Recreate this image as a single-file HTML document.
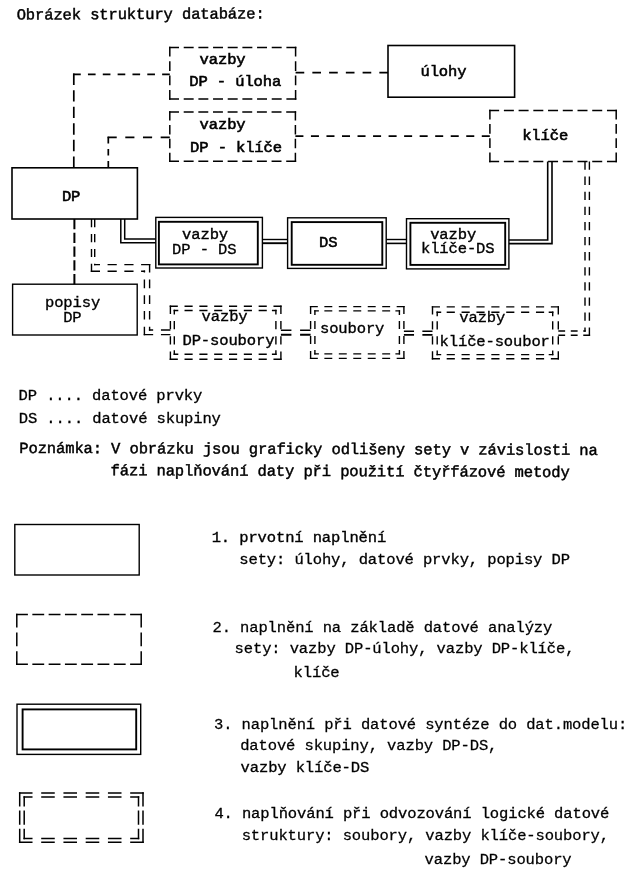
<!DOCTYPE html>
<html><head><meta charset="utf-8"><title>Obrázek struktury databáze</title>
<style>
html,body{margin:0;padding:0;background:#fff;}
body{width:641px;height:882px;overflow:hidden;}
svg{display:block;filter:grayscale(1);}
text{font-family:"Liberation Mono",monospace;font-size:15.5px;letter-spacing:-0.12px;font-weight:normal;fill:#000;white-space:pre;}
</style></head>
<body>
<svg width="641" height="882" viewBox="0 0 641 882">
<g>
<path d="M169.05,47.60H179.00M183.72,47.60H193.67M198.39,47.60H208.34M213.05,47.60H223.01M227.72,47.60H237.68M242.39,47.60H252.35M257.06,47.60H267.01M271.73,47.60H281.68M286.40,47.60H296.35" stroke="#000" stroke-width="1.5" fill="none"/><path d="M169.05,98.90H179.00M183.72,98.90H193.67M198.39,98.90H208.34M213.05,98.90H223.01M227.72,98.90H237.68M242.39,98.90H252.35M257.06,98.90H267.01M271.73,98.90H281.68M286.40,98.90H296.35" stroke="#000" stroke-width="1.5" fill="none"/><path d="M169.80,46.85V56.59M169.80,61.20V70.94M169.80,75.56V85.30M169.80,89.91V99.65" stroke="#000" stroke-width="1.5" fill="none"/><path d="M295.60,46.85V56.59M295.60,61.20V70.94M295.60,75.56V85.30M295.60,89.91V99.65" stroke="#000" stroke-width="1.5" fill="none"/>
<path d="M169.05,112.00H178.99M183.70,112.00H193.63M198.34,112.00H208.28M212.99,112.00H222.92M227.63,112.00H237.57M242.28,112.00H252.21M256.92,112.00H266.86M271.57,112.00H281.50M286.21,112.00H296.15" stroke="#000" stroke-width="1.5" fill="none"/><path d="M169.05,161.30H178.99M183.70,161.30H193.63M198.34,161.30H208.28M212.99,161.30H222.92M227.63,161.30H237.57M242.28,161.30H252.21M256.92,161.30H266.86M271.57,161.30H281.50M286.21,161.30H296.15" stroke="#000" stroke-width="1.5" fill="none"/><path d="M169.80,111.25V120.62M169.80,125.06V134.43M169.80,138.87V148.24M169.80,152.68V162.05" stroke="#000" stroke-width="1.5" fill="none"/><path d="M295.40,111.25V120.62M295.40,125.06V134.43M295.40,138.87V148.24M295.40,152.68V162.05" stroke="#000" stroke-width="1.5" fill="none"/>
<path d="M489.15,110.50H499.14M503.88,110.50H513.87M518.60,110.50H528.59M533.33,110.50H543.32M548.05,110.50H558.05M562.78,110.50H572.77M577.51,110.50H587.50M592.23,110.50H602.22M606.96,110.50H616.95" stroke="#000" stroke-width="1.5" fill="none"/><path d="M489.15,161.50H499.14M503.88,161.50H513.87M518.60,161.50H528.59M533.33,161.50H543.32M548.05,161.50H558.05M562.78,161.50H572.77M577.51,161.50H587.50M592.23,161.50H602.22M606.96,161.50H616.95" stroke="#000" stroke-width="1.5" fill="none"/><path d="M489.90,109.75V119.43M489.90,124.02V133.71M489.90,138.29V147.98M489.90,152.57V162.25" stroke="#000" stroke-width="1.5" fill="none"/><path d="M616.20,109.75V119.43M616.20,124.02V133.71M616.20,138.29V147.98M616.20,152.57V162.25" stroke="#000" stroke-width="1.5" fill="none"/>
<rect x="388.0" y="45.5" width="126.60" height="51.70" fill="none" stroke="#000" stroke-width="1.6"/>
<rect x="12.0" y="167.8" width="125.40" height="51.20" fill="none" stroke="#000" stroke-width="1.6"/>
<rect x="12.6" y="284.2" width="124.60" height="50.80" fill="none" stroke="#000" stroke-width="1.4"/>
<rect x="155.8" y="217.4" width="106.60" height="50.60" fill="none" stroke="#000" stroke-width="1.4"/><rect x="158.9" y="221.8" width="98.90" height="42.60" fill="none" stroke="#000" stroke-width="1.9"/>
<rect x="287.6" y="217.8" width="98.60" height="50.60" fill="none" stroke="#000" stroke-width="1.4"/><rect x="291.7" y="222.1" width="90.60" height="42.70" fill="none" stroke="#000" stroke-width="1.9"/>
<rect x="406.5" y="218.7" width="102.40" height="50.20" fill="none" stroke="#000" stroke-width="1.4"/><rect x="410.4" y="222.8" width="94.80" height="42.10" fill="none" stroke="#000" stroke-width="1.9"/>
<path d="M169.70,306.30H177.83M184.52,306.30H192.65M199.35,306.30H207.48M214.17,306.30H222.30M229.00,306.30H237.13M243.82,306.30H251.95M258.65,306.30H266.78M273.47,306.30H281.60" stroke="#000" stroke-width="1.4" fill="none"/><path d="M169.70,359.20H177.83M184.52,359.20H192.65M199.35,359.20H207.48M214.17,359.20H222.30M229.00,359.20H237.13M243.82,359.20H251.95M258.65,359.20H266.78M273.47,359.20H281.60" stroke="#000" stroke-width="1.4" fill="none"/><path d="M170.40,305.60V313.99M170.40,320.90V329.29M170.40,336.21V344.60M170.40,351.51V359.90" stroke="#000" stroke-width="1.4" fill="none"/><path d="M280.90,305.60V313.99M280.90,320.90V329.29M280.90,336.21V344.60M280.90,351.51V359.90" stroke="#000" stroke-width="1.4" fill="none"/><path d="M173.60,310.50H177.83M184.52,310.50H192.65M199.35,310.50H207.48M214.17,310.50H222.30M229.00,310.50H237.13M243.82,310.50H251.95M258.65,310.50H266.78M273.47,310.50H276.60M173.60,310.50H178.30M271.90,310.50H276.60" stroke="#000" stroke-width="1.4" fill="none"/><path d="M173.60,354.20H177.83M184.52,354.20H192.65M199.35,354.20H207.48M214.17,354.20H222.30M229.00,354.20H237.13M243.82,354.20H251.95M258.65,354.20H266.78M273.47,354.20H276.60M173.60,354.20H178.30M271.90,354.20H276.60" stroke="#000" stroke-width="1.4" fill="none"/><path d="M174.30,309.80V313.99M174.30,320.90V329.29M174.30,336.21V344.60M174.30,351.51V354.90M174.30,309.80V314.50M174.30,350.20V354.90" stroke="#000" stroke-width="1.4" fill="none"/><path d="M275.90,309.80V313.99M275.90,320.90V329.29M275.90,336.21V344.60M275.90,351.51V354.90M275.90,309.80V314.50M275.90,350.20V354.90" stroke="#000" stroke-width="1.4" fill="none"/>
<path d="M309.90,306.60H317.83M324.36,306.60H332.29M338.82,306.60H346.75M353.28,306.60H361.22M367.75,306.60H375.68M382.21,306.60H390.14M396.67,306.60H404.60" stroke="#000" stroke-width="1.4" fill="none"/><path d="M309.90,358.40H317.83M324.36,358.40H332.29M338.82,358.40H346.75M353.28,358.40H361.22M367.75,358.40H375.68M382.21,358.40H390.14M396.67,358.40H404.60" stroke="#000" stroke-width="1.4" fill="none"/><path d="M310.60,305.90V314.12M310.60,320.89V329.11M310.60,335.89V344.11M310.60,350.88V359.10" stroke="#000" stroke-width="1.4" fill="none"/><path d="M403.90,305.90V314.12M403.90,320.89V329.11M403.90,335.89V344.11M403.90,350.88V359.10" stroke="#000" stroke-width="1.4" fill="none"/><path d="M314.20,310.90H317.83M324.36,310.90H332.29M338.82,310.90H346.75M353.28,310.90H361.22M367.75,310.90H375.68M382.21,310.90H390.14M396.67,310.90H400.10M314.20,310.90H318.90M395.40,310.90H400.10" stroke="#000" stroke-width="1.4" fill="none"/><path d="M314.20,353.90H317.83M324.36,353.90H332.29M338.82,353.90H346.75M353.28,353.90H361.22M367.75,353.90H375.68M382.21,353.90H390.14M396.67,353.90H400.10M314.20,353.90H318.90M395.40,353.90H400.10" stroke="#000" stroke-width="1.4" fill="none"/><path d="M314.90,310.20V314.12M314.90,320.89V329.11M314.90,335.89V344.11M314.90,350.88V354.60M314.90,310.20V314.90M314.90,349.90V354.60" stroke="#000" stroke-width="1.4" fill="none"/><path d="M399.40,310.20V314.12M399.40,320.89V329.11M399.40,335.89V344.11M399.40,350.88V354.60M399.40,310.20V314.90M399.40,349.90V354.60" stroke="#000" stroke-width="1.4" fill="none"/>
<path d="M431.80,306.90H439.96M446.68,306.90H454.84M461.56,306.90H469.72M476.44,306.90H484.60M491.32,306.90H499.48M506.20,306.90H514.36M521.08,306.90H529.24M535.96,306.90H544.12M550.84,306.90H559.00" stroke="#000" stroke-width="1.4" fill="none"/><path d="M431.80,358.80H439.96M446.68,358.80H454.84M461.56,358.80H469.72M476.44,358.80H484.60M491.32,358.80H499.48M506.20,358.80H514.36M521.08,358.80H529.24M535.96,358.80H544.12M550.84,358.80H559.00" stroke="#000" stroke-width="1.4" fill="none"/><path d="M432.50,306.20V314.44M432.50,321.22V329.46M432.50,336.24V344.48M432.50,351.26V359.50" stroke="#000" stroke-width="1.4" fill="none"/><path d="M558.30,306.20V314.44M558.30,321.22V329.46M558.30,336.24V344.48M558.30,351.26V359.50" stroke="#000" stroke-width="1.4" fill="none"/><path d="M436.50,312.20H439.96M446.68,312.20H454.84M461.56,312.20H469.72M476.44,312.20H484.60M491.32,312.20H499.48M506.20,312.20H514.36M521.08,312.20H529.24M535.96,312.20H544.12M550.84,312.20H553.40M436.50,312.20H441.20M548.70,312.20H553.40" stroke="#000" stroke-width="1.4" fill="none"/><path d="M436.50,354.60H439.96M446.68,354.60H454.84M461.56,354.60H469.72M476.44,354.60H484.60M491.32,354.60H499.48M506.20,354.60H514.36M521.08,354.60H529.24M535.96,354.60H544.12M550.84,354.60H553.40M436.50,354.60H441.20M548.70,354.60H553.40" stroke="#000" stroke-width="1.4" fill="none"/><path d="M437.20,311.50V314.44M437.20,321.22V329.46M437.20,336.24V344.48M437.20,351.26V355.30M437.20,311.50V316.20M437.20,350.60V355.30" stroke="#000" stroke-width="1.4" fill="none"/><path d="M552.70,311.50V314.44M552.70,321.22V329.46M552.70,336.24V344.48M552.70,351.26V355.30M552.70,311.50V316.20M552.70,350.60V355.30" stroke="#000" stroke-width="1.4" fill="none"/>
<path d="M295.60,72.60H304.25M312.35,72.60H321.00M329.10,72.60H337.75M345.85,72.60H354.50M362.60,72.60H371.25M379.35,72.60H388.00" stroke="#000" stroke-width="1.7" fill="none"/>
<path d="M73.10,74.30H80.76M87.94,74.30H95.60M102.78,74.30H110.44M117.62,74.30H125.28M132.46,74.30H140.12M147.30,74.30H154.96M162.14,74.30H169.80" stroke="#000" stroke-width="1.7" fill="none"/><path d="M73.80,73.60V84.99M73.80,90.16V101.55M73.80,106.73V118.11M73.80,123.29V134.67M73.80,139.85V151.24M73.80,156.41V167.80" stroke="#000" stroke-width="1.7" fill="none"/>
<path d="M107.60,137.40H116.73M125.29,137.40H134.42M142.98,137.40H152.11M160.67,137.40H169.80" stroke="#000" stroke-width="1.7" fill="none"/><path d="M108.30,136.70V143.42M108.30,148.89V155.61M108.30,161.08V167.80" stroke="#000" stroke-width="1.7" fill="none"/>
<path d="M295.40,136.10H303.42M310.93,136.10H318.95M326.46,136.10H334.48M342.00,136.10H350.01M357.53,136.10H365.54M373.06,136.10H381.08M388.59,136.10H396.61M404.12,136.10H412.14M419.66,136.10H427.67M435.19,136.10H443.20M450.72,136.10H458.74M466.25,136.10H474.27M481.78,136.10H489.80" stroke="#000" stroke-width="1.7" fill="none"/>
<path d="M74.40,219.10V229.19M74.40,232.85V242.94M74.40,246.61V256.69M74.40,260.36V270.45M74.40,274.11V284.20" stroke="#000" stroke-width="2.0" fill="none"/>
<path d="M120.8,219.1 L120.8,242.8 L155.8,242.8" fill="none" stroke="#000" stroke-width="1.5"/>
<path d="M124.7,219.1 L124.7,238.9 L155.8,238.9" fill="none" stroke="#000" stroke-width="1.5"/>
<path d="M262.4,239.5 L287.6,239.5" fill="none" stroke="#000" stroke-width="1.4"/>
<path d="M262.4,243.2 L287.6,243.2" fill="none" stroke="#000" stroke-width="1.9"/>
<path d="M386.2,239.5 L406.5,239.5" fill="none" stroke="#000" stroke-width="1.4"/>
<path d="M386.2,243.4 L406.5,243.4" fill="none" stroke="#000" stroke-width="1.6"/>
<path d="M508.9,240.0 L547.7,240.0 L547.7,161.5" fill="none" stroke="#000" stroke-width="1.6"/>
<path d="M508.9,243.6 L552.0,243.6 L552.0,161.5" fill="none" stroke="#000" stroke-width="1.6"/>
<path d="M91.50,219.10V227.28M91.50,234.01V242.18M91.50,248.92V257.09M91.50,263.82V272.00" stroke="#000" stroke-width="1.4" fill="none"/><path d="M94.70,219.10V227.28M94.70,234.01V242.18M94.70,248.92V257.09M94.70,263.82V265.30" stroke="#000" stroke-width="1.4" fill="none"/>
<path d="M90.80,271.30H100.00M107.57,271.30H116.76M124.34,271.30H133.53M141.10,271.30H145.10" stroke="#000" stroke-width="1.4" fill="none"/><path d="M94.00,264.60H100.00M107.57,264.60H116.76M124.34,264.60H133.53M141.10,264.60H150.30" stroke="#000" stroke-width="1.4" fill="none"/>
<path d="M144.40,270.60V272.51M144.40,279.60V288.21M144.40,295.30V303.90M144.40,310.99V319.60M144.40,326.69V335.30" stroke="#000" stroke-width="1.4" fill="none"/><path d="M149.60,263.90V272.51M149.60,279.60V288.21M149.60,295.30V303.90M149.60,310.99V319.60M149.60,326.69V330.70" stroke="#000" stroke-width="1.4" fill="none"/>
<path d="M143.70,334.60H153.16M160.94,334.60H170.40" stroke="#000" stroke-width="1.4" fill="none"/><path d="M148.90,330.00H153.16M160.94,330.00H170.40" stroke="#000" stroke-width="1.4" fill="none"/>
<path d="M280.90,330.20H291.42M300.08,330.20H310.60" stroke="#000" stroke-width="1.4" fill="none"/><path d="M280.90,334.80H291.42M300.08,334.80H310.60" stroke="#000" stroke-width="1.9" fill="none"/>
<path d="M403.90,331.20H414.03M422.37,331.20H432.50" stroke="#000" stroke-width="1.4" fill="none"/><path d="M403.90,334.90H414.03M422.37,334.90H432.50" stroke="#000" stroke-width="1.9" fill="none"/>
<path d="M558.30,331.00H565.14M570.78,331.00H577.62M583.26,331.00H585.70" stroke="#000" stroke-width="1.4" fill="none"/><path d="M558.30,335.20H565.14M570.78,335.20H577.62M583.26,335.20H590.10" stroke="#000" stroke-width="1.4" fill="none"/>
<path d="M585.00,161.50V169.78M585.00,176.60V184.88M585.00,191.70V199.98M585.00,206.81V215.09M585.00,221.91V230.19M585.00,237.01V245.29M585.00,252.11V260.39M585.00,267.21V275.49M585.00,282.31V290.59M585.00,297.42V305.70M585.00,312.52V320.80M585.00,327.62V331.70" stroke="#000" stroke-width="1.4" fill="none"/><path d="M589.40,161.50V169.78M589.40,176.60V184.88M589.40,191.70V199.98M589.40,206.81V215.09M589.40,221.91V230.19M589.40,237.01V245.29M589.40,252.11V260.39M589.40,267.21V275.49M589.40,282.31V290.59M589.40,297.42V305.70M589.40,312.52V320.80M589.40,327.62V335.90" stroke="#000" stroke-width="1.4" fill="none"/>
<rect x="14.8" y="524.5" width="124.40" height="50.50" fill="none" stroke="#000" stroke-width="1.4"/>
<path d="M16.05,614.50H27.90M32.34,614.50H44.19M48.64,614.50H60.49M64.93,614.50H76.78M81.22,614.50H93.07M97.51,614.50H109.36M113.81,614.50H125.66M130.10,614.50H141.95" stroke="#000" stroke-width="1.5" fill="none"/><path d="M16.05,664.30H27.90M32.34,664.30H44.19M48.64,664.30H60.49M64.93,664.30H76.78M81.22,664.30H93.07M97.51,664.30H109.36M113.81,664.30H125.66M130.10,664.30H141.95" stroke="#000" stroke-width="1.5" fill="none"/><path d="M16.80,613.75V627.43M16.80,632.56V646.24M16.80,651.37V665.05" stroke="#000" stroke-width="1.5" fill="none"/><path d="M141.20,613.75V627.43M141.20,632.56V646.24M141.20,651.37V665.05" stroke="#000" stroke-width="1.5" fill="none"/>
<rect x="17.0" y="704.2" width="123.70" height="50.20" fill="none" stroke="#000" stroke-width="1.4"/><rect x="22.6" y="709.4" width="113.60" height="40.00" fill="none" stroke="#000" stroke-width="1.9"/>
<path d="M18.95,793.10H32.52M41.20,793.10H54.76M63.44,793.10H77.01M85.69,793.10H99.26M107.94,793.10H121.50M130.18,793.10H143.75" stroke="#000" stroke-width="1.5" fill="none"/><path d="M18.95,842.20H32.52M41.20,842.20H54.76M63.44,842.20H77.01M85.69,842.20H99.26M107.94,842.20H121.50M130.18,842.20H143.75" stroke="#000" stroke-width="1.5" fill="none"/><path d="M19.70,792.35V806.52M19.70,810.57V824.73M19.70,828.78V842.95" stroke="#000" stroke-width="1.5" fill="none"/><path d="M143.00,792.35V806.52M143.00,810.57V824.73M143.00,828.78V842.95" stroke="#000" stroke-width="1.5" fill="none"/><path d="M23.45,797.00H32.52M41.20,797.00H54.76M63.44,797.00H77.01M85.69,797.00H99.26M107.94,797.00H121.50M130.18,797.00H139.25M23.45,797.00H28.20M134.50,797.00H139.25" stroke="#000" stroke-width="1.5" fill="none"/><path d="M23.45,838.40H32.52M41.20,838.40H54.76M63.44,838.40H77.01M85.69,838.40H99.26M107.94,838.40H121.50M130.18,838.40H139.25M23.45,838.40H28.20M134.50,838.40H139.25" stroke="#000" stroke-width="1.5" fill="none"/><path d="M24.20,796.25V806.52M24.20,810.57V824.73M24.20,828.78V839.15M24.20,796.25V801.00M24.20,834.40V839.15" stroke="#000" stroke-width="1.5" fill="none"/><path d="M138.50,796.25V806.52M138.50,810.57V824.73M138.50,828.78V839.15M138.50,796.25V801.00M138.50,834.40V839.15" stroke="#000" stroke-width="1.5" fill="none"/>
</g>
<g>
<text x="16.70" y="19.60" stroke="#000" stroke-width="0.45" transform="rotate(-0.278 17.7 19.6)">Obrázek struktury databáze:</text>
<text x="199.60" y="63.50" stroke="#000" stroke-width="0.6">vazby</text>
<text x="189.30" y="86.20" stroke="#000" stroke-width="0.6">DP - úloha</text>
<text x="420.50" y="75.50" stroke="#000" stroke-width="0.55">úlohy</text>
<text x="199.60" y="129.20" stroke="#000" stroke-width="0.6">vazby</text>
<text x="190.10" y="152.00" stroke="#000" stroke-width="0.6">DP - klíče</text>
<text x="522.20" y="140.40" stroke="#000" stroke-width="0.6">klíče</text>
<text x="61.90" y="200.90" stroke="#000" stroke-width="0.6">DP</text>
<text x="182.10" y="238.90" stroke="#000" stroke-width="0.4">vazby</text>
<text x="172.10" y="253.50" stroke="#000" stroke-width="0.3">DP - DS</text>
<text x="319.10" y="246.50" stroke="#000" stroke-width="0.55">DS</text>
<text x="430.20" y="238.90" stroke="#000" stroke-width="0.4">vazby</text>
<text x="421.00" y="253.20" stroke="#000" stroke-width="0.35">klíče-DS</text>
<text x="45.00" y="306.90" stroke="#000" stroke-width="0.35">popisy</text>
<text x="63.20" y="321.70" stroke="#000" stroke-width="0.3">DP</text>
<text x="201.60" y="321.30" stroke="#000" stroke-width="0.35">vazby</text>
<text x="182.50" y="344.70" stroke="#000" stroke-width="0.4">DP-soubory</text>
<text x="320.00" y="332.50" stroke="#000" stroke-width="0.35">soubory</text>
<text x="459.30" y="322.00" stroke="#000" stroke-width="0.3">vazby</text>
<text x="439.60" y="345.50" stroke="#000" stroke-width="0.35">klíče-soubor</text>
<text x="18.60" y="400.40" stroke="#000" stroke-width="0.31">DP .... datové prvky</text>
<text x="18.80" y="422.90" stroke="#000" stroke-width="0.31">DS .... datové skupiny</text>
<text x="19.30" y="452.90" stroke="#000" stroke-width="0.46" transform="rotate(0.208 20.3 452.9)">Poznámka: V obrázku jsou graficky odlišeny sety v závislosti na</text>
<text x="110.60" y="475.20" stroke="#000" stroke-width="0.46" transform="rotate(0.225 111.6 475.2)">fázi naplňování daty při použití čtyřfázové metody</text>
<text x="211.70" y="541.90" stroke="#000" stroke-width="0.36">1. prvotní naplnění</text>
<text x="239.30" y="564.30" stroke="#000" stroke-width="0.31">sety: úlohy, datové prvky, popisy DP</text>
<text x="212.50" y="631.90" stroke="#000" stroke-width="0.26">2. naplnění na základě datové analýzy</text>
<text x="234.60" y="653.40" stroke="#000" stroke-width="0.26">sety: vazby DP-úlohy, vazby DP-klíče,</text>
<text x="293.60" y="676.80" stroke="#000" stroke-width="0.31">klíče</text>
<text x="214.00" y="729.00" stroke="#000" stroke-width="0.26">3. naplnění při datové syntéze do dat.modelu:</text>
<text x="240.20" y="750.00" stroke="#000" stroke-width="0.26">datové skupiny, vazby DP-DS,</text>
<text x="240.60" y="772.40" stroke="#000" stroke-width="0.31">vazby klíče-DS</text>
<text x="214.40" y="817.80" stroke="#000" stroke-width="0.31">4. naplňování při odvozování logické datové</text>
<text x="241.70" y="840.00" stroke="#000" stroke-width="0.26">struktury: soubory, vazby klíče-soubory,</text>
<text x="424.60" y="864.40" stroke="#000" stroke-width="0.26">vazby DP-soubory</text>
</g>
</svg>
</body></html>
